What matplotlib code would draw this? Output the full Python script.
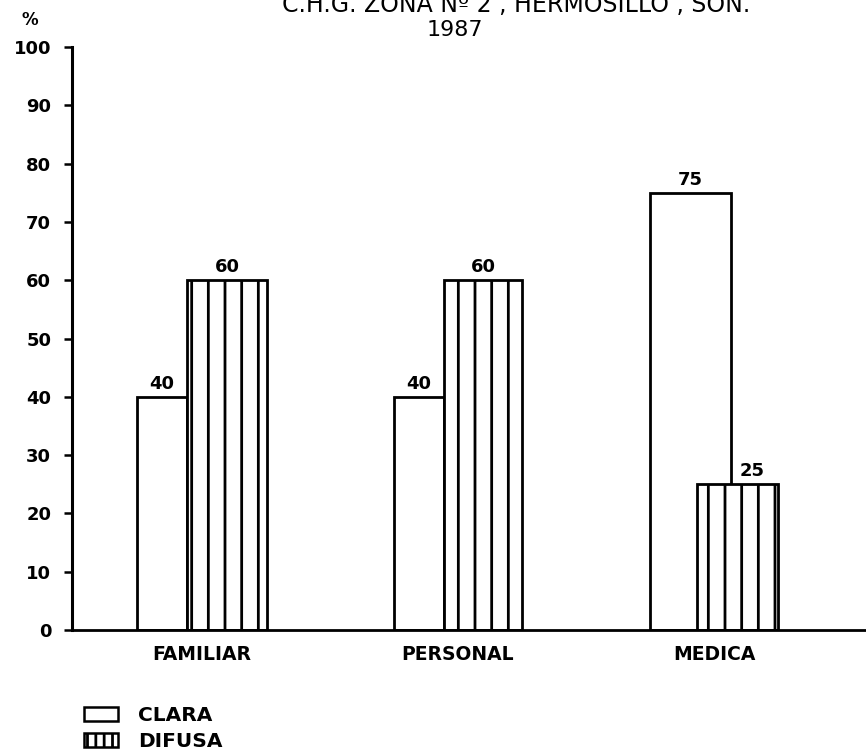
import matplotlib
matplotlib.use("Agg")
from matplotlib import pyplot as plt
from matplotlib.patches import Patch
import numpy as np

# datos
categorias = ["FAMILIAR", "PERSONAL", "MEDICA"]
clara = [40, 40, 75]
difusa = [60, 60, 25]
series = ["CLARA", "DIFUSA"]
yticks = [0, 10, 20, 30, 40, 50, 60, 70, 80, 90, 100]
titulo = "C.H.G. ZONA Nº 2 , HERMOSILLO , SON."
subtitulo = "1987"

plt.rcParams["font.family"] = "DejaVu Sans"
plt.rcParams["hatch.linewidth"] = 2.0
plt.rcParams["hatch.color"] = "black"

fig = plt.figure(figsize=(8.66, 7.56), dpi=100)
fig.set_facecolor("white")
ax = fig.add_axes([72 / 866, 126 / 756, 1 - 72 / 866, 583 / 756])

# 1 unidad de x = 256 px del dibujo original (hecho a mano, barras irregulares)
u = 256.0
clara_off = [(-65, 50), (-64, 50), (-64, 81)]
difusa_off = [(-15, 80), (-14, 78), (-17, 81)]
label_dx = [0, 0, 15]

x = np.arange(len(categorias))
for i in range(len(categorias)):
    l, w = clara_off[i]
    ax.bar(x[i] + l / u, clara[i], width=w / u, align="edge",
           facecolor="white", edgecolor="black", linewidth=2.0)
    ax.annotate(str(clara[i]), (x[i] + (l + w / 2) / u, clara[i]),
                xytext=(0, 3), textcoords="offset points",
                ha="center", va="bottom", fontsize=13, fontweight="bold")
for i in range(len(categorias)):
    l, w = difusa_off[i]
    ax.bar(x[i] + l / u, difusa[i], width=w / u, align="edge",
           facecolor="white", edgecolor="black", linewidth=2.0, hatch="|")
    ax.annotate(str(difusa[i]), (x[i] + (l + w / 2 + label_dx[i]) / u, difusa[i]),
                xytext=(0, 3), textcoords="offset points",
                ha="center", va="bottom", fontsize=13, fontweight="bold")

ax.set_xlim(-130 / u, (866 - 202) / u)
ax.set_ylim(0, 100)
ax.set_yticks(yticks)
ax.set_xticks(x)
ax.set_xticklabels(categorias, fontsize=13.5, fontweight="bold")
ax.tick_params(axis="x", length=0, pad=11)
ax.tick_params(axis="y", length=6, width=1.8, pad=9, labelsize=13)
for t in ax.get_yticklabels():
    t.set_fontweight("bold")

for s in ("top", "right"):
    ax.spines[s].set_visible(False)
ax.spines["left"].set_linewidth(2.2)
ax.spines["bottom"].set_linewidth(2.0)

fig.text(30 / 866, 1 - 20 / 756, "%", ha="center", va="center",
         fontsize=12, fontweight="bold")
fig.text(750 / 866, 1 - 12 / 756, titulo, ha="right", va="baseline", fontsize=17)
fig.text(455 / 866, 1 - 36 / 756, subtitulo, ha="center", va="baseline", fontsize=16)

handles = [
    Patch(facecolor="white", edgecolor="black", linewidth=1.8),
    Patch(facecolor="white", edgecolor="black", linewidth=1.8, hatch="||"),
]
fig.legend(handles, series, loc="upper left", bbox_to_anchor=(74 / 866, 1 - 696 / 756),
           frameon=False, borderpad=0, handlelength=1.7, handleheight=0.7,
           handletextpad=1.0, labelspacing=0.35,
           prop={"size": 14.5, "weight": "bold"})

fig.savefig("out.png", dpi=100, facecolor="white")
